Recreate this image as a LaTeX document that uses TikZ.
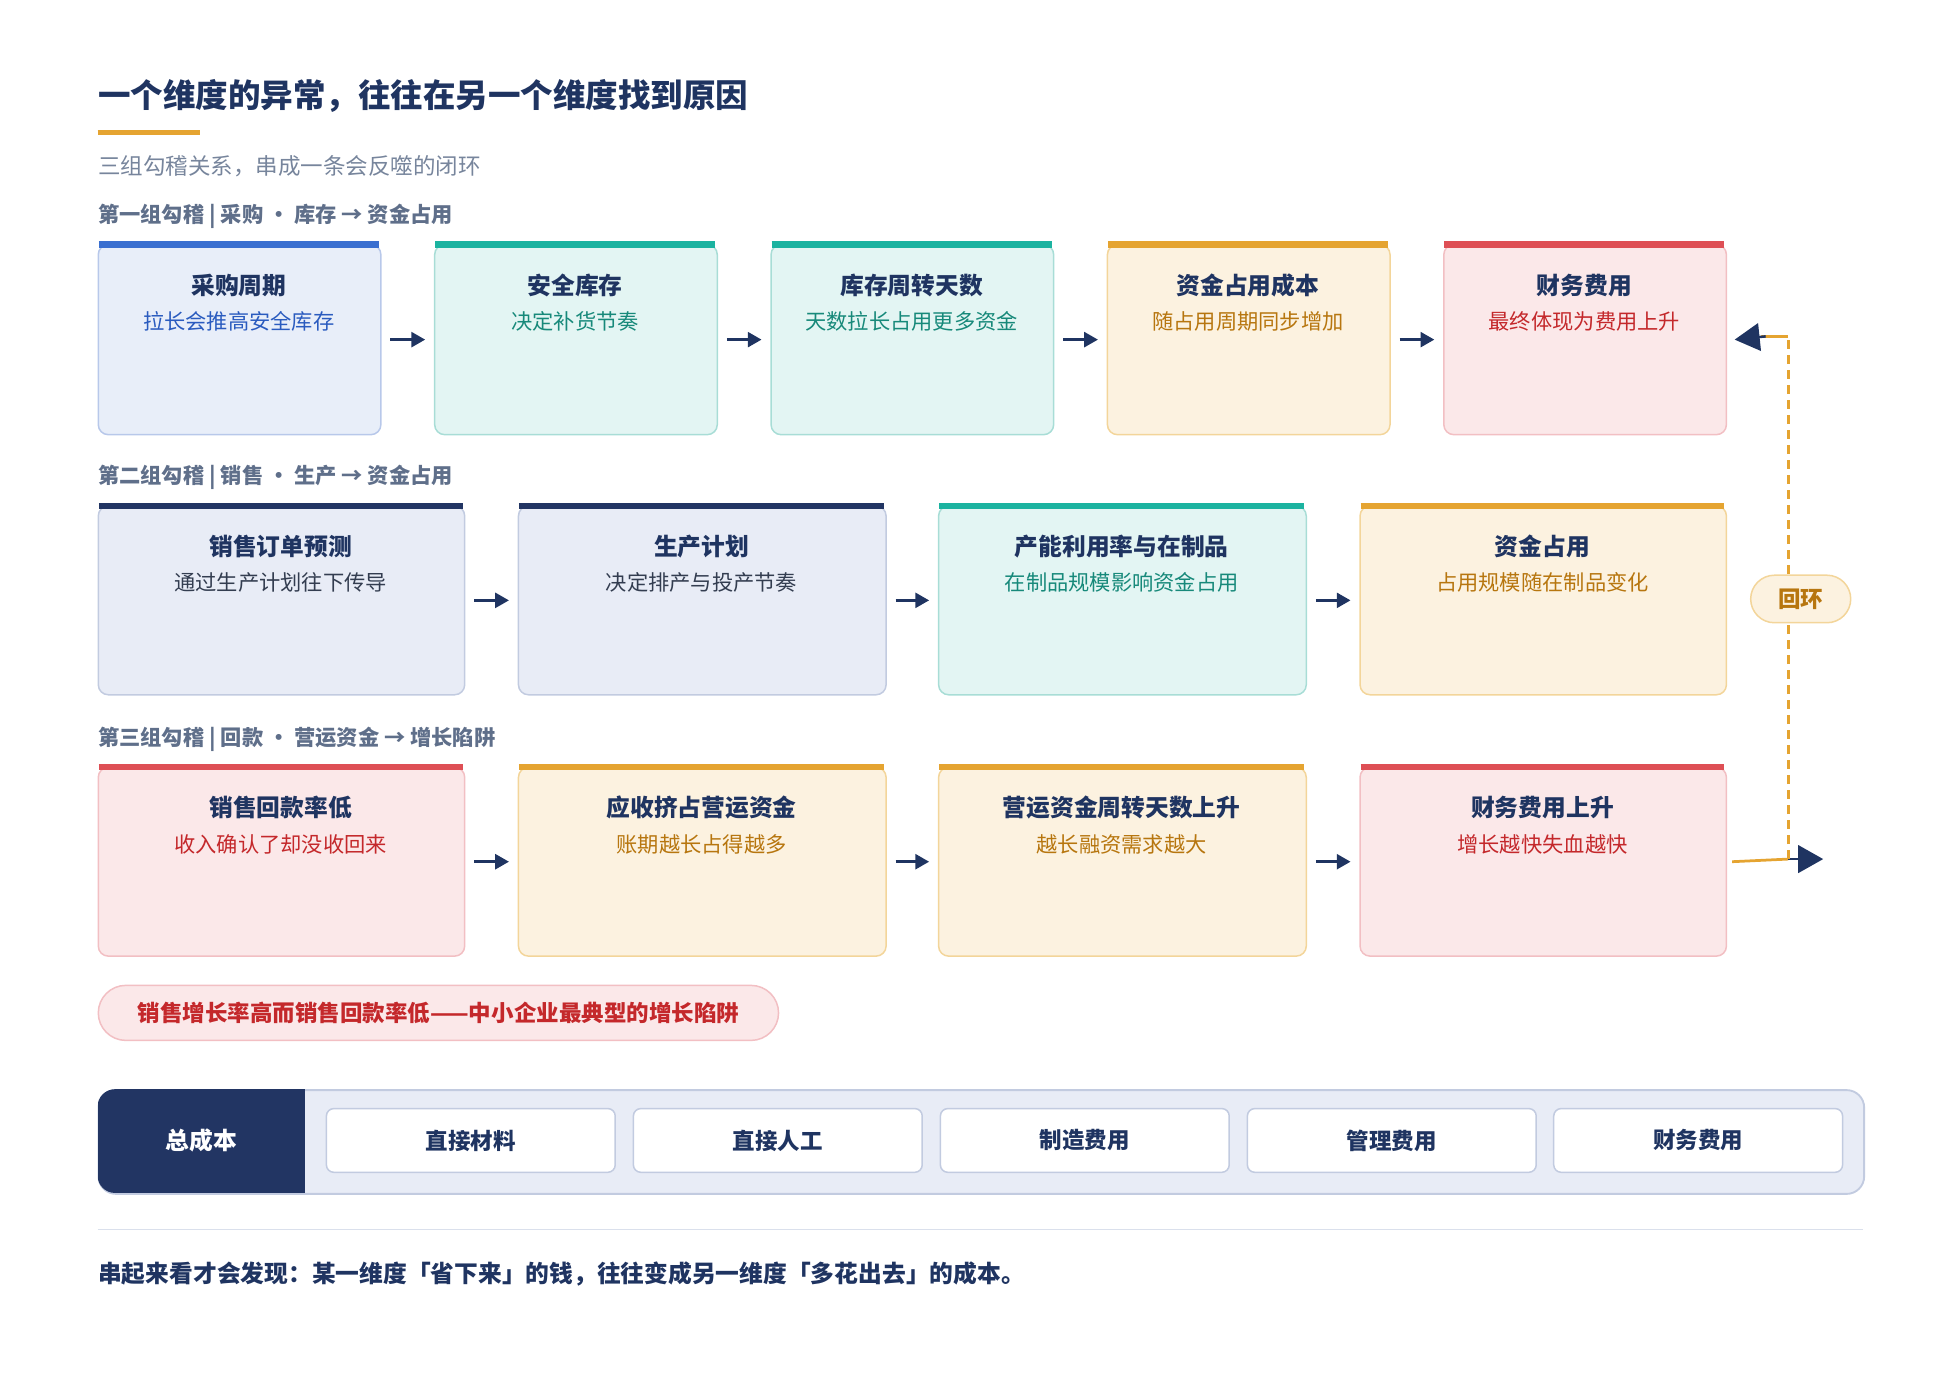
\documentclass[tikz,border=0pt]{standalone}
\usepackage{fontspec}
\setmainfont{Noto Sans CJK SC}
\usetikzlibrary{arrows.meta,positioning}
\definecolor{navy}{HTML}{1F3461}
\definecolor{grey}{HTML}{5F6F8A}
\definecolor{bluebar}{HTML}{3A6FD0}\definecolor{bluefill}{HTML}{E8EEF9}\definecolor{blueline}{HTML}{B8C8EA}\definecolor{bluetext}{HTML}{2A5BBF}
\definecolor{tealbar}{HTML}{1BB3A0}\definecolor{tealfill}{HTML}{E3F5F3}\definecolor{tealline}{HTML}{A8DDD6}\definecolor{tealtext}{HTML}{17897A}
\definecolor{orgbar}{HTML}{E5A431}\definecolor{orgfill}{HTML}{FCF2E0}\definecolor{orgline}{HTML}{F3D59A}\definecolor{orgtext}{HTML}{B7760F}
\definecolor{redbar}{HTML}{DE4F55}\definecolor{redfill}{HTML}{FBE8E9}\definecolor{redline}{HTML}{F2BFC3}\definecolor{redtext}{HTML}{C4282B}
\definecolor{navbar}{HTML}{223563}\definecolor{navfill}{HTML}{E8ECF6}\definecolor{navline}{HTML}{C2CBE0}\definecolor{navtext}{HTML}{333D50}
\tikzset{
  card/.style={draw=#1line,fill=#1fill,line width=1.2pt,rounded corners=8pt,inner sep=0pt},
  cardtitle/.style={font=\fontsize{19}{22}\selectfont\bfseries,text=navy},
  cardsub/.style={font=\fontsize{17}{20}\selectfont,text=#1text},
  group/.style={font=\fontsize{17}{20}\selectfont\bfseries,text=grey,anchor=west},
  flow/.style={-{Triangle[length=11pt,width=12pt]},draw=navy,line width=2pt,shorten <=7pt,shorten >=7pt},
  costbox/.style={draw=navline,fill=white,line width=1.2pt,rounded corners=6pt,minimum width=231pt,minimum height=51pt,font=\fontsize{18}{21}\selectfont\bfseries,text=navy}
}
% card: name, left, right, top, bottom, colour, title, text
\newcommand\card[8]{%
  \node[card=#6,minimum width={#3-#2},minimum height={#5-#4},anchor=north west] (#1) at (#2,#4) {};
  \draw[#6bar,line width=5pt] (#2+1,#4+0.5) -- (#3-1,#4+0.5);
  \node[cardtitle] (#1t) at ({(#2+#3)/2},#4+33) {#7};
  \node[cardsub=#6] (#1s) at ({(#2+#3)/2},#4+62) {#8};
}
\begin{document}
\begin{tikzpicture}[x=1pt,y=-1pt]
\useasboundingbox (0,0) rectangle (1561,1107);
\node[anchor=west,font=\fontsize{26}{30}\selectfont\bfseries,text=navy] (title) at (75,77) {一个维度的异常，往往在另一个维度找到原因};
\draw[orgbar,line width=4pt] (78,106) -- (160,106);
\node[anchor=west,font=\fontsize{18}{21}\selectfont,text=grey!85] (subtitle) at (75,133) {三组勾稽关系，串成一条会反噬的闭环};
% row 1
\node[group] (g1) at (75,173) {第一组勾稽 | 采购 · 库存 → 资金占用};
\card{a1}{78}{304}{195}{347}{blue}{采购周期}{拉长会推高安全库存}
\card{a2}{347}{573}{195}{347}{teal}{安全库存}{决定补货节奏}
\card{a3}{616}{842}{195}{347}{teal}{库存周转天数}{天数拉长占用更多资金}
\card{a4}{885}{1111}{195}{347}{org}{资金占用成本}{随占用周期同步增加}
\card{a5}{1154}{1380}{195}{347}{red}{财务费用}{最终体现为费用上升}
% row 2
\node[group] (g2) at (75,382) {第二组勾稽 | 销售 · 生产 → 资金占用};
\card{b1}{78}{371}{404}{555}{nav}{销售订单预测}{通过生产计划往下传导}
\card{b2}{414}{708}{404}{555}{nav}{生产计划}{决定排产与投产节奏}
\card{b3}{750}{1044}{404}{555}{teal}{产能利用率与在制品}{在制品规模影响资金占用}
\card{b4}{1087}{1380}{404}{555}{org}{资金占用}{占用规模随在制品变化}
% row 3
\node[group] (g3) at (75,591) {第三组勾稽 | 回款 · 营运资金 → 增长陷阱};
\card{c1}{78}{371}{613}{764}{red}{销售回款率低}{收入确认了却没收回来}
\card{c2}{414}{708}{613}{764}{org}{应收挤占营运资金}{账期越长占得越多}
\card{c3}{750}{1044}{613}{764}{org}{营运资金周转天数上升}{越长融资需求越大}
\card{c4}{1087}{1380}{613}{764}{red}{财务费用上升}{增长越快失血越快}
\foreach \p/\q in {a1/a2,a2/a3,a3/a4,a4/a5,b1/b2,b2/b3,b3/b4,c1/c2,c2/c3,c3/c4}
  \draw[flow] (\p.east) -- (\q.west);
% loop back
\coordinate (l1) at (1430,687);
\coordinate (l2) at (1430,269);
\coordinate (out) at (1458,687);
\draw[orgbar,line width=2.2pt] ([xshift=4pt]c4.east) -- (l1);
\draw[-{Triangle[length=20pt,width=22pt]},navy,line width=2pt] (l1) -- (out);
\draw[orgbar,line width=2.2pt,dash pattern=on 7pt off 5pt] (l1) -- (l2);
\draw[orgbar,line width=2.2pt] (l2) -- (1408,269);
\draw[-{Triangle[length=20pt,width=22pt]},navy,line width=2pt] (1412,269) -- ([xshift=6pt]a5.east);
\node[draw=orgline,fill=orgfill,line width=1.2pt,rounded corners=19pt,minimum width=80pt,minimum height=38pt,font=\fontsize{18}{21}\selectfont\bfseries,text=orgtext] (loop) at (1440,479) {回环};
% trap note
\node[draw=redline,fill=redfill,line width=1.2pt,rounded corners=22pt,minimum width=544pt,minimum height=44pt,anchor=west,font=\fontsize{18}{21}\selectfont\bfseries,text=redtext] (trap) at (78,810) {销售增长率高而销售回款率低——中小企业最典型的增长陷阱};
% total cost bar
\node[draw=navline,fill=navfill,line width=1.5pt,rounded corners=14pt,minimum width=1412pt,minimum height=83pt,anchor=north west] (costbar) at (78,871) {};
\begin{scope}
  \clip[rounded corners=14pt] (78,871) rectangle (1490,954);
  \fill[navbar] (78,871) rectangle (244,954);
\end{scope}
\node[font=\fontsize{19}{22}\selectfont\bfseries,text=white] (total) at (161,912) {总成本};
\node[costbox] (k1) at (376.5,912) {直接材料};
\node[costbox] (k2) at (622,912) {直接人工};
\node[costbox] (k3) at (867.5,912) {制造费用};
\node[costbox] (k4) at (1113,912) {管理费用};
\node[costbox] (k5) at (1358,912) {财务费用};
\draw[navline!60,line width=1pt] (78,983) -- (1490,983);
\node[anchor=west,font=\fontsize{19}{22}\selectfont\bfseries,text=navy] (note) at (75,1019) {串起来看才会发现：某一维度「省下来」的钱，往往变成另一维度「多花出去」的成本。};
\end{tikzpicture}
\end{document}
